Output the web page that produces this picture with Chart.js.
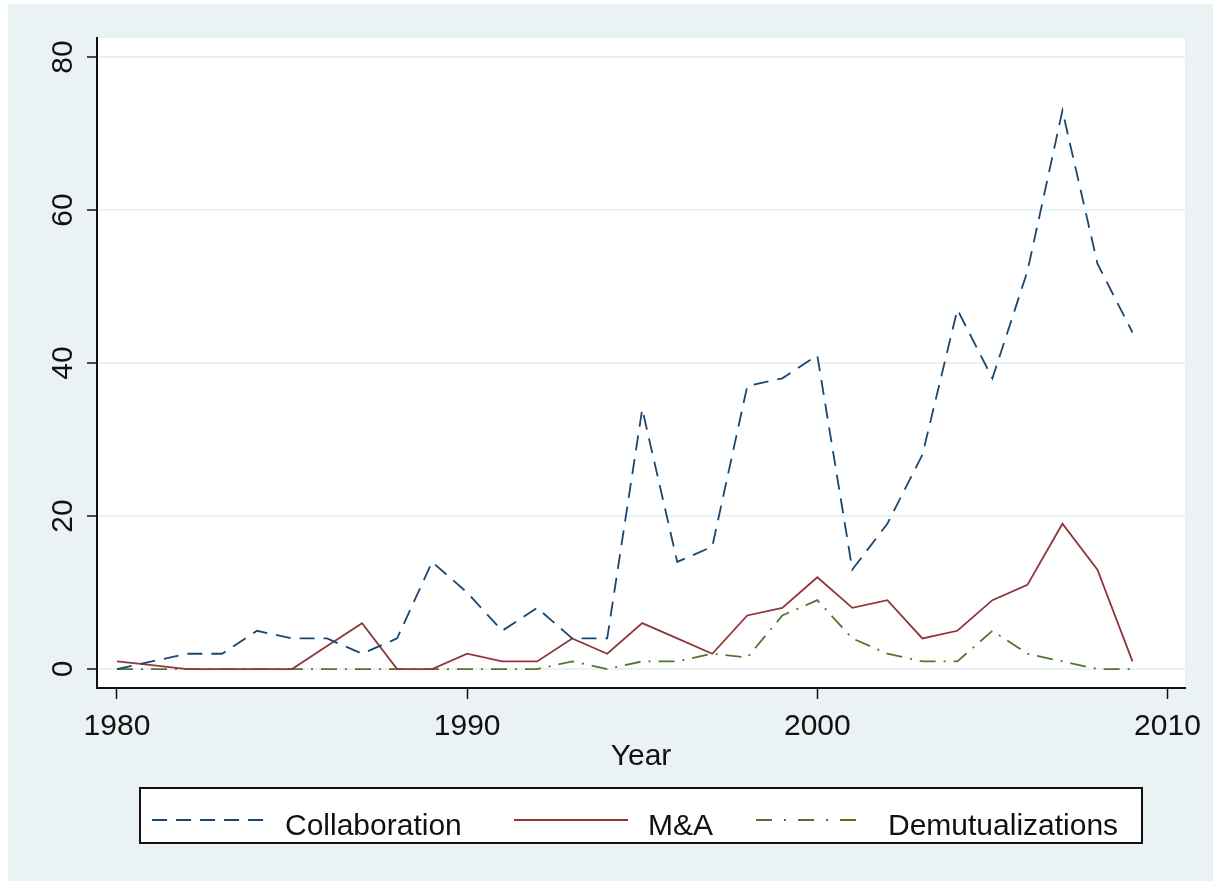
<!DOCTYPE html>
<html>
<head>
<meta charset="utf-8">
<script src="https://cdn.jsdelivr.net/npm/chart.js@4.4.1/dist/chart.umd.min.js"></script>
<style>
  html, body { margin: 0; padding: 0; background: #fff; overflow: hidden; }
  canvas { display: block; }
</style>
</head>
<body>
<canvas id="c" width="1213" height="881"></canvas>
<script>
// ---- data ----
const years = [1980,1981,1982,1983,1984,1985,1986,1987,1988,1989,
               1990,1991,1992,1993,1994,1995,1996,1997,1998,1999,
               2000,2001,2002,2003,2004,2005,2006,2007,2008,2009];
const collaboration = [0,1,2,2,5,4,4,2,4,14,
                       10,5,8,4,4,34,14,16,37,38,
                       41,13,19,28,47,38,52,73,53,44];
const mergers = [1,0.5,0,0,0,0,3,6,0,0,
                 2,1,1,4,2,6,4,2,7,8,
                 12,8,9,4,5,9,11,19,13,1];
const demutualizations = [0,0,0,0,0,0,0,0,0,0,
                          0,0,0,1,0,1,1,2,1.5,7,
                          9,4,2,1,1,5,2,1,0,0];
const seriesNames = ["Collaboration", "M&A", "Demutualizations"];
const xTickValues = [1980, 1990, 2000, 2010];
const yTickValues = [0, 20, 40, 60, 80];
const xTitle = "Year";

// ---- styles ----
const FONT = '30px "Liberation Sans", Arial, Helvetica, sans-serif';
const BG = '#EAF2F3';
const colors = ['#1A476F', '#90353B', '#55752F'];
const plotDashes = [[15, 9], [], [16, 8, 2, 8]];
const legendDashes = [[15, 9], [], [16, 12, 2, 12]];

function pts(vals) { return years.map((y, i) => ({ x: y, y: vals[i] })); }

const bgPlugin = {
  id: 'bg',
  beforeDraw(chart) {
    const ctx = chart.ctx, a = chart.chartArea;
    ctx.save();
    ctx.fillStyle = '#ffffff';
    ctx.fillRect(0, 0, chart.width, chart.height);
    ctx.fillStyle = BG;
    ctx.fillRect(8, 4, chart.width - 8, chart.height - 4);
    ctx.fillStyle = '#ffffff';
    ctx.fillRect(a.left, a.top, a.right - a.left, a.bottom - a.top);
    ctx.restore();
  },
  afterDraw(chart) {
    const ctx = chart.ctx, a = chart.chartArea;
    const xs = chart.scales.x, ys = chart.scales.y;
    ctx.save();
    ctx.fillStyle = '#111';
    ctx.font = FONT;
    // x tick labels
    ctx.textAlign = 'center';
    ctx.textBaseline = 'alphabetic';
    xTickValues.forEach(v => ctx.fillText(String(v), xs.getPixelForValue(v), 735));
    // x title
    ctx.fillText(xTitle, (a.left + a.right) / 2, 765);
    // y tick labels (rotated)
    yTickValues.forEach(v => {
      ctx.save();
      ctx.translate(72, ys.getPixelForValue(v));
      ctx.rotate(-Math.PI / 2);
      ctx.textAlign = 'center';
      ctx.fillText(String(v), 0, 0);
      ctx.restore();
    });
    // legend
    const bx = 140, by = 788, bw = 1002, bh = 55;
    ctx.fillStyle = '#ffffff';
    ctx.fillRect(bx, by, bw, bh);
    ctx.strokeStyle = '#111';
    ctx.lineWidth = 2;
    ctx.strokeRect(bx, by, bw, bh);
    const items = [
      { x1: 152, x2: 267, tx: 285 },
      { x1: 514, x2: 628, tx: 648 },
      { x1: 756, x2: 862, tx: 888 }
    ];
    items.forEach((it, i) => {
      ctx.beginPath();
      ctx.setLineDash(legendDashes[i]);
      ctx.strokeStyle = colors[i];
      ctx.lineWidth = 2;
      ctx.moveTo(it.x1, 820);
      ctx.lineTo(it.x2, 820);
      ctx.stroke();
      ctx.setLineDash([]);
      ctx.fillStyle = '#111';
      ctx.textAlign = 'left';
      ctx.fillText(seriesNames[i], it.tx, 835);
    });
    ctx.restore();
  }
};

new Chart(document.getElementById('c'), {
  type: 'line',
  data: {
    datasets: [
      { label: seriesNames[0], data: pts(collaboration), borderColor: colors[0], borderDash: plotDashes[0] },
      { label: seriesNames[1], data: pts(mergers), borderColor: colors[1], borderDash: plotDashes[1] },
      { label: seriesNames[2], data: pts(demutualizations), borderColor: colors[2], borderDash: plotDashes[2] }
    ].map(d => Object.assign(d, { borderWidth: 1.8, pointRadius: 0, tension: 0, fill: false }))
  },
  options: {
    responsive: false,
    devicePixelRatio: 1,
    animation: false,
    layout: { padding: { top: 38, right: 28, left: 0, bottom: 0 } },
    plugins: { legend: { display: false }, tooltip: { enabled: false } },
    scales: {
      x: {
        type: 'linear',
        min: 1979.43,
        max: 2010.5,
        afterBuildTicks: s => { s.ticks = xTickValues.map(v => ({ value: v })); },
        afterFit: s => { s.height = 193; },
        ticks: { display: false },
        grid: { drawOnChartArea: false, drawTicks: true, tickLength: 11, tickColor: '#111', tickWidth: 1.5 },
        border: { color: '#111', width: 2 }
      },
      y: {
        type: 'linear',
        min: -2.48,
        max: 82.5,
        afterBuildTicks: s => { s.ticks = yTickValues.map(v => ({ value: v })); },
        afterFit: s => { s.width = 97; },
        ticks: { display: false },
        grid: { color: BG, lineWidth: 2, drawTicks: true, tickLength: 10, tickColor: '#111', tickWidth: 1.5 },
        border: { color: '#111', width: 2 }
      }
    }
  },
  plugins: [bgPlugin]
});
</script>
</body>
</html>
